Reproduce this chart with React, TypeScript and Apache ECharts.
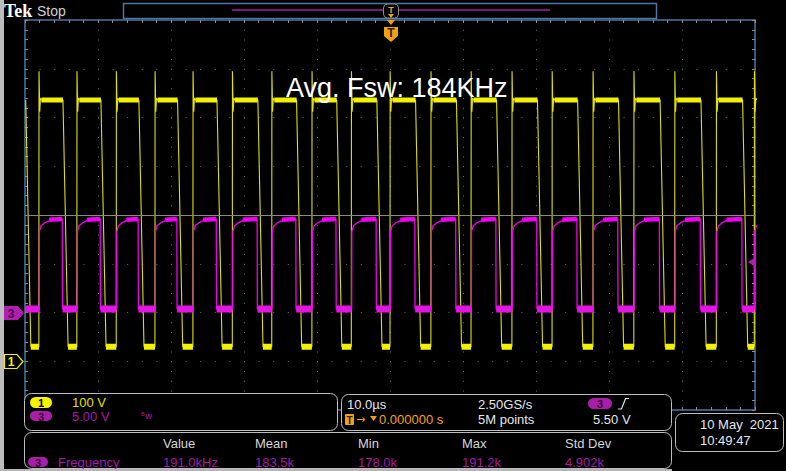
import React, { useEffect, useRef } from "react";
import * as echarts from "echarts";

const W = 786;
const H = 471;

// Horizontal: 10.0 µs/div, 10 divisions, trigger at centre
const timeMinUs = -50;
const timeMaxUs = 50;
const timeDivUs = 10;
// Channel 1: 100 V/div, ground marker 3 div below centre
const ch1Min = -100;
const ch1Max = 700;
const ch1Div = 100;
// Channel 3: 5.00 V/div, ground marker 2 div below centre
const ch3Min = -10;
const ch3Max = 30;
const ch3Div = 5;
const ch3CentreV = 10;

const fallUs = [-50.0, -44.9, -39.7, -34.5, -29.2, -23.8, -18.2, -12.9, -7.4, -1.9, 3.4, 9.0, 14.5, 20.1, 25.6, 31.2, 36.9, 42.5, 48.2];
const riseUs = [-48.1, -42.9, -37.5, -32.2, -27.0, -21.6, -16.2, -10.7, -5.3, 0.0, 5.6, 11.1, 16.7, 22.2, 27.8, 33.4, 39.0, 44.7, 49.9];

// Levels (V)
const ch1LowV = 30;
const ch1HighV = 536;
const ch3LowV = 0.35;
const ch3HighV = 9.6;

// Edge shapes: [offset µs, V]
const ch1FallShape = [[0.1, 536], [0.8, 30]];
const ch1RiseShape = [[0, 30], [0.02, 595], [0.12, 512], [0.22, 540], [0.35, 536]];
const ch3FallShape = [[0, 9.6], [0.03, 0.35]];
const ch3RiseShape = [[0.05, 0.35], [0.07, 8.3], [0.3, 8.9], [0.9, 9.25], [1.6, 9.48], [2.4, 9.6]];

// Measurement table
const measHeaders = ["Value", "Mean", "Min", "Max", "Std Dev"];
const measValues = ["191.0kHz", "183.5k", "178.0k", "191.2k", "4.902k"];

function buildTraces() {
  const yellow: any[] = [];
  const yHigh: any[] = [];
  const yLow: any[] = [];
  const mag: any[] = [];
  const mHigh: any[] = [];
  const mLow: any[] = [];
  const n = riseUs.length;
  for (let k = 0; k < n; k++) {
    const f = fallUs[k];
    const r = riseUs[k];
    for (const [dt, v] of ch1FallShape) yellow.push([f + dt, v]);
    for (const [dt, v] of ch1RiseShape) yellow.push([r + dt, v]);
    if (k === 0) mag.push([timeMinUs, ch3LowV]);
    else for (const [dt, v] of ch3FallShape) mag.push([f + dt, v]);
    for (const [dt, v] of ch3RiseShape) mag.push([r + dt, v]);

    yLow.push([f + 0.8, ch1LowV], [r, ch1LowV], [r, null]);
    mLow.push([Math.max(f + 0.05, timeMinUs), ch3LowV], [r + 0.05, ch3LowV], [r + 0.05, null]);
    if (k + 1 < n) {
      yHigh.push([r + 0.35, ch1HighV], [fallUs[k + 1] + 0.1, ch1HighV], [fallUs[k + 1] + 0.1, null]);
      mHigh.push([r + 1.4, 9.52], [fallUs[k + 1], ch3HighV], [fallUs[k + 1], null]);
    }
  }
  return { yellow, yHigh, yLow, mag, mHigh, mLow };
}

const BORDER = "#4d76a2";
const DOT = "#6a6a6a";
const TICK = "#8c8c8c";
const YEL = "#f2f200";
const MAG = "#f000f0";
const MAGDIM = "#a21ca8";
const ORANGE = "#f0a018";
const WHITE = "#e6e6e6";
const FONT = '"Liberation Sans", Arial, sans-serif';

function txt(x: number, y: number, text: string, fill: string, size = 13, extra: any = {}) {
  return {
    type: "text",
    x,
    y,
    z: 110,
    silent: true,
    style: { text, fill, font: `${extra.weight || "normal"} ${size}px ${extra.family || FONT}`, align: extra.align || "left", verticalAlign: "middle" },
  };
}
function box(x: number, y: number, w: number, h: number, r = 7, stroke = "#bdbdbd") {
  return { type: "rect", z: 100, silent: true, shape: { x, y, width: w, height: h, r }, style: { fill: "#000", stroke, lineWidth: 1 } };
}
function pill(x: number, y: number, w: number, h: number, fill: string, label: string, labelFill: string) {
  return [
    { type: "rect", z: 105, silent: true, shape: { x, y, width: w, height: h, r: h / 2 }, style: { fill } },
    txt(x + w / 2, y + h / 2 + 0.5, label, labelFill, 11, { weight: "bold", align: "center" }),
  ];
}

export default function App() {
  const ref = useRef<HTMLDivElement>(null);
  useEffect(() => {
    const chart = echarts.init(ref.current!, null, { renderer: "svg", width: W, height: H });
    const t = buildTraces();

    const axisCommon = {
      type: "value",
      axisLabel: { show: false },
      axisLine: { show: true, onZero: false, lineStyle: { color: BORDER, width: 1.5 } },
      axisTick: { show: true, inside: true, length: 3, lineStyle: { color: TICK } },
      minorTick: { show: true, splitNumber: 5, length: 3, lineStyle: { color: TICK } },
    };

    const graphics: any[] = [
      // screenshot frame on the left
      { type: "rect", z: 120, silent: true, shape: { x: 0, y: 0, width: 4, height: H }, style: { fill: "#bdbdbd" } },
      { type: "rect", z: 120, silent: true, shape: { x: 0, y: 469, width: 672, height: 2 }, style: { fill: "#b5b5b5" } },
      // header
      txt(4, 11, "Tek", "#ffffff", 18, { weight: "bold", family: '"Liberation Serif", serif' }),
      txt(37, 11, "Stop", "#cfcfcf", 14),
      { type: "rect", z: 100, silent: true, shape: { x: 123.5, y: 3.5, width: 533, height: 15 }, style: { fill: "#000", stroke: BORDER, lineWidth: 1.5 } },
      { type: "line", z: 101, silent: true, shape: { x1: 232, y1: 10, x2: 550, y2: 10 }, style: { stroke: "#a020a0", lineWidth: 1.5 } },
      { type: "rect", z: 102, silent: true, shape: { x: 383.5, y: 4, width: 15, height: 14, r: 4 }, style: { fill: "#000", stroke: "#8a8a8a", lineWidth: 1 } },
      txt(391, 9.5, "T", ORANGE, 9, { weight: "bold", align: "center" }),
      { type: "polygon", z: 103, silent: true, shape: { points: [[388, 14], [394, 14], [391, 18]] }, style: { fill: ORANGE } },
      { type: "polygon", z: 103, silent: true, shape: { points: [[387, 20], [395, 20], [391, 25]] }, style: { fill: ORANGE } },
      { type: "polygon", z: 103, silent: true, shape: { points: [[384, 27], [398, 27], [398, 36], [391, 42], [384, 36]] }, style: { fill: ORANGE } },
      txt(391, 33, "T", "#3a2400", 12, { weight: "bold", align: "center" }),
      // annotation
      txt(286, 88, "Avg. Fsw: 184KHz", "#ffffff", 27),
      // channel markers
      { type: "polygon", z: 103, silent: true, shape: { points: [[4, 306], [18, 306], [24, 313], [18, 320], [4, 320]] }, style: { fill: "#b020b0" } },
      txt(11, 313.5, "3", "#4a004a", 12, { weight: "bold", align: "center" }),
      { type: "polygon", z: 103, silent: true, shape: { points: [[4.5, 354.5], [17, 354.5], [23, 361.5], [17, 368.5], [4.5, 368.5]] }, style: { fill: "#000", stroke: YEL, lineWidth: 1.2 } },
      txt(11, 362, "1", YEL, 12, { weight: "bold", align: "center" }),
      // trigger level arrow
      { type: "polygon", z: 103, silent: true, shape: { points: [[748, 262], [755, 257.5], [755, 266.5]] }, style: { fill: "#b020b0" } },
      // status boxes
      box(24.5, 393.5, 313, 37),
      box(341.5, 394.5, 330, 36),
      box(24.5, 432.5, 647, 36),
      box(675.5, 413.5, 108, 38),
      ...pill(30, 397, 22, 11, "#f4f400", "1", "#000"),
      txt(72, 402, "100 V", "#e0e000"),
      ...pill(30, 411, 22, 10, "#a81ea8", "3", "#3c003c"),
      txt(72, 416, "5.00 V", MAGDIM),
      txt(141, 416, "ᴮw", MAGDIM, 9, { family: '"DejaVu Sans", sans-serif' }),
      txt(347, 404, "10.0µs", WHITE),
      { type: "rect", z: 105, silent: true, shape: { x: 345, y: 414, width: 9, height: 11, r: 1 }, style: { fill: ORANGE } },
      txt(349.5, 420, "T", "#302000", 10, { weight: "bold", align: "center" }),
      txt(356, 419, "→", ORANGE, 11, { family: '"DejaVu Sans", sans-serif' }),
      { type: "polygon", z: 105, silent: true, shape: { points: [[370, 416], [377, 416], [373.5, 421]] }, style: { fill: ORANGE } },
      txt(379, 419, "0.000000 s", ORANGE),
      txt(478, 404, "2.50GS/s", WHITE),
      txt(478, 419, "5M points", WHITE),
      ...pill(588, 398, 24, 11, "#a81ea8", "3", "#3c003c"),
      { type: "polyline", z: 105, silent: true, shape: { points: [[618, 409], [621.5, 409], [625.5, 398.5], [629, 398.5]] }, style: { stroke: WHITE, lineWidth: 1.2, fill: "none" } },
      txt(593, 419, "5.50 V", WHITE),
      ...pill(28, 457, 20, 10, "#a81ea8", "3", "#3c003c"),
      txt(58, 462, "Frequency", MAGDIM),
      txt(700, 424, "10 May  2021", WHITE),
      txt(700, 440, "10:49:47", WHITE),
    ];
    const colX = [163, 255, 358, 462, 565];
    measHeaders.forEach((h, i) => graphics.push(txt(colX[i], 443, h, "#d6d6d6")));
    measValues.forEach((v, i) => graphics.push(txt(colX[i], 462, v, MAGDIM)));

    chart.setOption({
      animation: false,
      backgroundColor: "#000",
      grid: { left: 25, top: 20, width: 730, height: 390, containLabel: false },
      xAxis: [
        { ...axisCommon, position: "bottom", min: timeMinUs, max: timeMaxUs, interval: timeDivUs, splitLine: { show: true, lineStyle: { color: DOT, type: [1, 8.75], width: 1 } } },
        { ...axisCommon, position: "top", min: timeMinUs, max: timeMaxUs, interval: timeDivUs, splitLine: { show: false } },
      ],
      yAxis: [
        { ...axisCommon, position: "left", min: ch1Min, max: ch1Max, interval: ch1Div, splitLine: { show: true, lineStyle: { color: DOT, type: [1, 13.6], width: 1 } } },
        { ...axisCommon, position: "right", min: ch3Min, max: ch3Max, interval: ch3Div, splitLine: { show: false } },
      ],
      series: [
        { type: "line", name: "ch1", xAxisIndex: 0, yAxisIndex: 0, data: t.yellow, showSymbol: false, silent: true, z: 3, lineStyle: { color: "#dede10", width: 1.1 } },
        { type: "line", name: "ch1 band high", xAxisIndex: 0, yAxisIndex: 0, data: t.yHigh, showSymbol: false, silent: true, connectNulls: false, z: 3, lineStyle: { color: YEL, width: 5 } },
        { type: "line", name: "ch1 band low", xAxisIndex: 0, yAxisIndex: 0, data: t.yLow, showSymbol: false, silent: true, connectNulls: false, z: 3, lineStyle: { color: YEL, width: 6 } },
        {
          type: "line", name: "ch3", xAxisIndex: 0, yAxisIndex: 1, data: t.mag, showSymbol: false, silent: true, z: 4,
          lineStyle: { color: MAG, width: 1.3 },
          markLine: { silent: true, symbol: ["none", "none"], label: { show: false }, lineStyle: { color: "#8a8a7e", type: "solid", width: 1 }, data: [{ yAxis: ch3CentreV }] },
        },
        { type: "line", name: "ch3 band high", xAxisIndex: 0, yAxisIndex: 1, data: t.mHigh, showSymbol: false, silent: true, connectNulls: false, z: 4, lineStyle: { color: MAG, width: 4.5 } },
        { type: "line", name: "ch3 band low", xAxisIndex: 0, yAxisIndex: 1, data: t.mLow, showSymbol: false, silent: true, connectNulls: false, z: 4, lineStyle: { color: "#e414e4", width: 7 } },
      ],
      graphic: graphics,
    });
    return () => chart.dispose();
  }, []);
  return <div ref={ref} style={{ position: "fixed", left: 0, top: 0, width: W, height: H, background: "#000" }} />;
}
